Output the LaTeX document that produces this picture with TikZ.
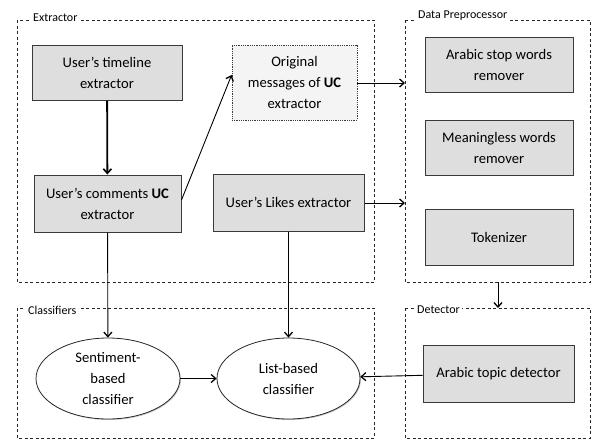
\documentclass[tikz,border=0pt]{standalone}
\usepackage{fontspec}
\setmainfont{Carlito}
\usetikzlibrary{shapes.geometric,arrows.meta,shadows}
\definecolor{boxfill}{HTML}{DEDEDE}
\definecolor{boxline}{HTML}{3A3A3A}
\definecolor{orifill}{HTML}{F4F4F4}
\tikzset{
  container/.style={draw=black!85, line width=0.7pt, dash pattern=on 3pt off 2.5pt},
  grplabel/.style={fill=white, inner sep=2pt, font=\fontsize{12}{14}\selectfont, anchor=west},
  procbox/.style={draw=boxline, fill=boxfill, line width=1pt, align=center,
     font=\fontsize{14.6}{21}\selectfont, inner sep=0pt,
     drop shadow={shadow xshift=1pt, shadow yshift=-1pt, fill=black!45, opacity=0.6}},
  dotbox/.style={draw=boxline, fill=orifill, line width=0.8pt, densely dotted, align=center,
     font=\fontsize{14.6}{21}\selectfont, inner sep=0pt},
  classnode/.style={ellipse, draw=black!85, fill=white, line width=0.8pt, align=center,
     font=\fontsize{14.6}{21}\selectfont, inner sep=0pt,
     drop shadow={shadow xshift=1pt, shadow yshift=-1pt, fill=black!40, opacity=0.5}},
  conn/.style={-{Straight Barb[length=4.5pt,width=8pt,line width=1.3pt]}, line width=0.9pt, draw=black},
  thickconn/.style={-{Straight Barb[length=4.5pt,width=8pt,line width=1.6pt]}, line width=1.8pt},
}
\begin{document}
\begin{tikzpicture}[x=1pt,y=-1pt]
\useasboundingbox (0,0) rectangle (592,440);
% containers
\draw[container] (17,20) rectangle (374,282);
\draw[container] (405,20) rectangle (590,282);
\draw[container] (17,308) rectangle (374,438);
\draw[container] (405,308) rectangle (590,438);
\node[grplabel] (lext) at (31,18) {Extractor};
\node[grplabel] (ldp) at (416,16) {Data Preprocessor};
\node[grplabel] (lcls) at (26,310) {Classifiers};
\node[grplabel] (ldet) at (415,310) {Detector};
\coordinate (dpleftA) at (405,83);
\coordinate (dpleftB) at (405,203);
\coordinate (dpbot) at (498,282);
\coordinate (dettop) at (498,308);
% boxes
\node[procbox, minimum width=150pt, minimum height=55pt] (timeline) at (107,72.5) {User’s timeline\\extractor};
\node[procbox, minimum width=147pt, minimum height=57pt] (comments) at (107.5,203.5) {User’s comments \textbf{UC}\\extractor};
\node[dotbox, minimum width=125pt, minimum height=75pt] (orig) at (294.5,82.5) {Original\\messages of \textbf{UC}\\extractor};
\node[procbox, minimum width=151pt, minimum height=57pt] (likes) at (288.5,202.5) {User’s Likes extractor};
\node[procbox, minimum width=148pt, minimum height=55pt] (stop) at (499,64.5) {Arabic stop words\\remover};
\node[procbox, minimum width=148pt, minimum height=55pt] (mean) at (499,147.5) {Meaningless words\\remover};
\node[procbox, minimum width=148pt, minimum height=56pt] (tok) at (499,237) {Tokenizer};
\node[procbox, minimum width=151pt, minimum height=57pt] (topic) at (498.5,373.5) {Arabic topic detector};
\node[classnode, minimum width=144pt, minimum height=81pt] (sent) at (108,378.5) {Sentiment-\\based\\classifier};
\node[classnode, minimum width=143pt, minimum height=81pt] (list) at (288.5,378.5) {List-based\\classifier};
% connectors
\draw[thickconn] (timeline) -- (comments);
\draw[conn] (comments.east |- 0,200) -- (orig.west |- 0,75);
\draw[conn] (orig.east |- dpleftA) -- (dpleftA);
\draw[conn] (likes.east |- dpleftB) -- (dpleftB);
\draw[conn] (comments) -- (sent);
\draw[conn] (likes) -- (list);
\draw[conn] (sent) -- (list);
\draw[conn] (topic) -- (list);
\draw[conn] (dpbot) -- (dettop);
\end{tikzpicture}
\end{document}
